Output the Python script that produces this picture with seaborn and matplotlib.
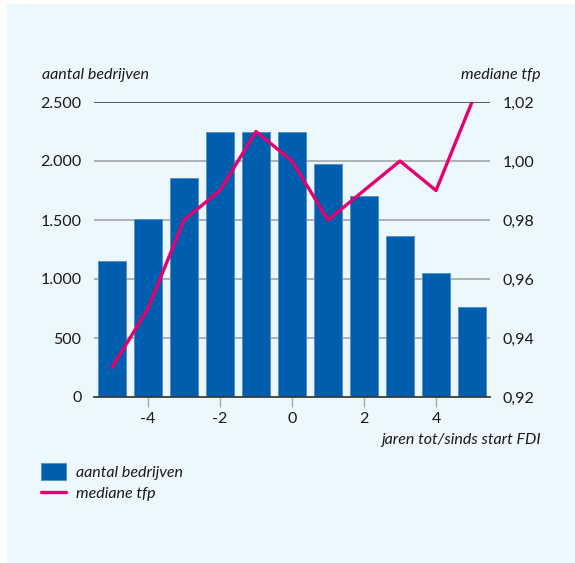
import matplotlib
matplotlib.use("Agg")
import matplotlib.pyplot as plt
import seaborn as sns
import pandas as pd
from matplotlib.patches import Rectangle

# data
years = [-5, -4, -3, -2, -1, 0, 1, 2, 3, 4, 5]
bedrijven = [1155, 1510, 1860, 2250, 2250, 2250, 1975, 1705, 1365, 1055, 760]
tfp = [0.930, 0.950, 0.980, 0.990, 1.010, 1.000, 0.980, 0.990, 1.000, 0.990, 1.020]
left_ticks = [0, 500, 1000, 1500, 2000, 2500]
left_labels = ["0", "500", "1.000", "1.500", "2.000", "2.500"]
right_ticks = [0.92, 0.94, 0.96, 0.98, 1.00, 1.02]
right_labels = ["0,92", "0,94", "0,96", "0,98", "1,00", "1,02"]
x_ticks = [-4, -2, 0, 2, 4]
x_labels = ["-4", "-2", "0", "2", "4"]

df = pd.DataFrame({"jaar": years, "bedrijven": bedrijven, "tfp": tfp})

BLUE = "#005EAF"
PINK = "#E5006F"
PANEL = "#EDF7FE"
GRID = "#A8ACAF"
DARK = "#3C3C3C"
TXT = "#1A1A1A"

sns.set_theme(style="white")
plt.rcParams["font.family"] = ["Lato", "DejaVu Sans"]

W, H = 575, 563
fig = plt.figure(figsize=(W / 100, H / 100), dpi=100)
fig.patch.set_facecolor("white")
fig.patches.append(Rectangle((7 / W, 0), 1 - 7 / W, 1 - 4 / H, transform=fig.transFigure,
                             facecolor=PANEL, edgecolor="none", zorder=-10))

axl, axr, axb, axt = 94, 490, 397, 102
ax = fig.add_axes([axl / W, (H - axb) / H, (axr - axl) / W, (axb - axt) / H])
ax.patch.set_alpha(0)

sns.barplot(data=df, x="jaar", y="bedrijven", native_scale=True, width=0.8,
            color=BLUE, saturation=1, edgecolor="#4F8FCF", linewidth=0.6,
            label="aantal bedrijven", ax=ax, zorder=2)
ax.set_xlim(-5.5, 5.5)
ax.set_ylim(0, 2500)
ax.set_axisbelow(True)
ax.set_yticks(left_ticks)
ax.set_yticklabels(left_labels)
ax.set_xticks(x_ticks)
ax.set_xticklabels(x_labels)
for t in left_ticks[1:-1]:
    ax.axhline(t, color=GRID, lw=1.3, zorder=0.5)
ax.axhline(2500, color=DARK, lw=1.2, zorder=0.5)
for s in ["top", "right", "left"]:
    ax.spines[s].set_visible(False)
ax.spines["bottom"].set_color(DARK)
ax.spines["bottom"].set_linewidth(1.3)
ax.tick_params(axis="y", length=0, pad=9, labelsize=11.5, labelcolor=TXT)
ax.tick_params(axis="x", bottom=True, length=7, width=1, color=GRID, pad=4, labelsize=11.5, labelcolor=TXT)
ax.set_xlabel("")
ax.set_ylabel("")

ax2 = ax.twinx()
sns.lineplot(data=df, x="jaar", y="tfp", color=PINK, lw=2.4, label="mediane tfp", ax=ax2, zorder=3)
ax2.set_ylim(0.92, 1.02)
ax2.set_yticks(right_ticks)
ax2.set_yticklabels(right_labels)
ax2.tick_params(axis="y", length=0, pad=9, labelsize=11.5, labelcolor=TXT)
for s in ["top", "right", "left", "bottom"]:
    ax2.spines[s].set_visible(False)
ax2.set_ylabel("")
ax2.set_xlabel("")
ax2.set_xlim(-5.5, 5.5)

h1, l1 = ax.get_legend_handles_labels()
h2, l2 = ax2.get_legend_handles_labels()
if ax.get_legend():
    ax.get_legend().remove()
if ax2.get_legend():
    ax2.get_legend().remove()

fig.text(42 / W, 1 - 75 / H, "aantal bedrijven", style="italic", fontsize=11.5, color=TXT, ha="left", va="center")
fig.text(541 / W, 1 - 75 / H, "mediane tfp", style="italic", fontsize=11.5, color=TXT, ha="right", va="center")
fig.text(541 / W, 1 - 440 / H, "jaren tot/sinds start FDI", style="italic", fontsize=11.5, color=TXT, ha="right", va="center")

leg = fig.legend(h1 + h2, l1 + l2, loc="upper left", bbox_to_anchor=(41 / W, 1 - 463 / H),
                 frameon=False, borderpad=0, borderaxespad=0, handlelength=1.55, handleheight=1.25,
                 handletextpad=0.65, labelspacing=0.3, prop={"style": "italic", "size": 11.5})
for t in leg.get_texts():
    t.set_color(TXT)

fig.savefig("out.png", dpi=100)
